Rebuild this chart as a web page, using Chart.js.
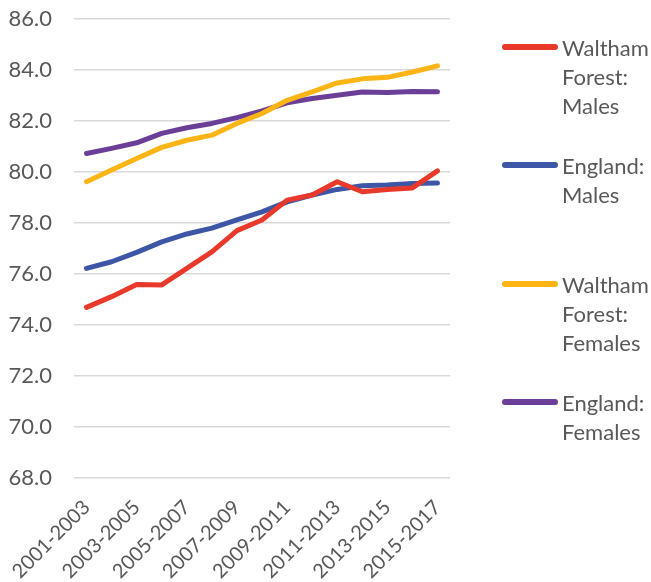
<!DOCTYPE html>
<html>
<head>
<meta charset="utf-8">
<title>Life expectancy at birth</title>
<script src="https://cdn.jsdelivr.net/npm/chart.js@4/dist/chart.umd.min.js"></script>
<style>
  body { margin: 0; background: #fff; }
  #wrap { position: relative; width: 651px; height: 582px; }
  #legend { position: absolute; left: 0; top: 0; font-family: Lato, sans-serif; font-size: 22px; color: #595959; }
  .legend-item { position: absolute; left: 502px; width: 149px; }
  .legend-line { position: absolute; left: 0; top: 11px; width: 56px; height: 6px; border-radius: 3px; }
  .legend-text { position: absolute; left: 60px; top: 0; width: 89px; line-height: 29px; }
</style>
</head>
<body>
<div id="wrap">
  <canvas id="myChart"></canvas>
  <div id="legend"></div>
</div>
<script>
const periods = [
  '2001-2003', '2002-2004', '2003-2005', '2004-2006', '2005-2007',
  '2006-2008', '2007-2009', '2008-2010', '2009-2011', '2010-2012',
  '2011-2013', '2012-2014', '2013-2015', '2014-2016', '2015-2017'
];
const seriesNames = ['Waltham Forest: Males', 'England: Males', 'Waltham Forest: Females', 'England: Females'];
const walthamMales = [74.68, 75.10, 75.58, 75.56, 76.21, 76.86, 77.69, 78.11, 78.89, 79.09, 79.61, 79.22, 79.31, 79.37, 80.04];
const englandMales = [76.21, 76.47, 76.84, 77.25, 77.56, 77.79, 78.11, 78.43, 78.82, 79.09, 79.31, 79.45, 79.48, 79.54, 79.56];
const walthamFemales = [79.61, 80.07, 80.52, 80.96, 81.24, 81.44, 81.90, 82.29, 82.81, 83.14, 83.49, 83.65, 83.71, 83.92, 84.16];
const englandFemales = [80.72, 80.92, 81.14, 81.51, 81.73, 81.90, 82.13, 82.39, 82.71, 82.88, 83.01, 83.13, 83.11, 83.15, 83.14];
const seriesColors = ['#e8392a', '#3d56a6', '#fdb515', '#6b3f98'];

const gridColor = '#d9d9d9';
const textColor = '#595959';

function makeDataset(i, values) {
  return {
    label: seriesNames[i],
    data: values,
    borderColor: seriesColors[i],
    backgroundColor: seriesColors[i],
    borderWidth: 5,
    borderCapStyle: 'round',
    borderJoinStyle: 'round',
    pointRadius: 0,
    pointHoverRadius: 0,
    tension: 0,
    fill: false
  };
}

function getConfig() {
  const data = {
    labels: periods,
    datasets: [
      makeDataset(0, walthamMales),
      makeDataset(1, englandMales),
      makeDataset(2, walthamFemales),
      makeDataset(3, englandFemales)
    ]
  };

  return {
    type: 'line',
    data,
    options: {
      responsive: true,
      maintainAspectRatio: false,
      animation: false,
      layout: { padding: { top: 19, right: 201, left: 0, bottom: 0 } },
      plugins: {
        legend: { display: false },
        tooltip: { enabled: false }
      },
      scales: {
        y: {
          min: 68,
          max: 86,
          afterFit: (scale) => { scale.width = 74; },
          ticks: {
            stepSize: 2,
            padding: 3,
            color: textColor,
            font: { size: 22 },
            callback: (v) => Number(v).toFixed(1)
          },
          // invisible tick marks keep the labels clear of the plot
          grid: { color: gridColor, lineWidth: 1.5, drawTicks: true, tickLength: 19, tickColor: 'rgba(0,0,0,0)' },
          border: { display: false }
        },
        x: {
          offset: true,
          afterFit: (scale) => {
            scale.height = 104.5;
            scale.paddingLeft = 0;
            scale.paddingRight = 0;
          },
          ticks: {
            autoSkip: false,
            minRotation: 45,
            maxRotation: 45,
            padding: 18,
            color: textColor,
            font: { size: 20 },
            // every other period gets a label
            callback: (v, i) => (i % 2 === 0 ? periods[i] : '')
          },
          grid: { display: false, drawTicks: false },
          border: { display: false }
        }
      }
    }
  };
}

function buildLegend(chart) {
  const legend = document.getElementById('legend');
  const firstCenter = 47;
  const step = 118.6;
  chart.data.datasets.forEach((ds, i) => {
    const item = document.createElement('div');
    item.className = 'legend-item';
    item.style.top = (firstCenter + i * step - 14.5) + 'px';

    const line = document.createElement('span');
    line.className = 'legend-line';
    line.style.background = ds.borderColor;

    const text = document.createElement('span');
    text.className = 'legend-text';
    text.innerText = ds.label;

    item.appendChild(line);
    item.appendChild(text);
    legend.appendChild(item);
  });
}

function drawChart() {
  Chart.defaults.font.family = 'Lato, sans-serif';
  const myChart = new Chart(document.getElementById('myChart'), getConfig());
  buildLegend(myChart);
  return myChart;
}

document.fonts.load('22px Lato').then(drawChart, drawChart);
</script>
</body>
</html>
